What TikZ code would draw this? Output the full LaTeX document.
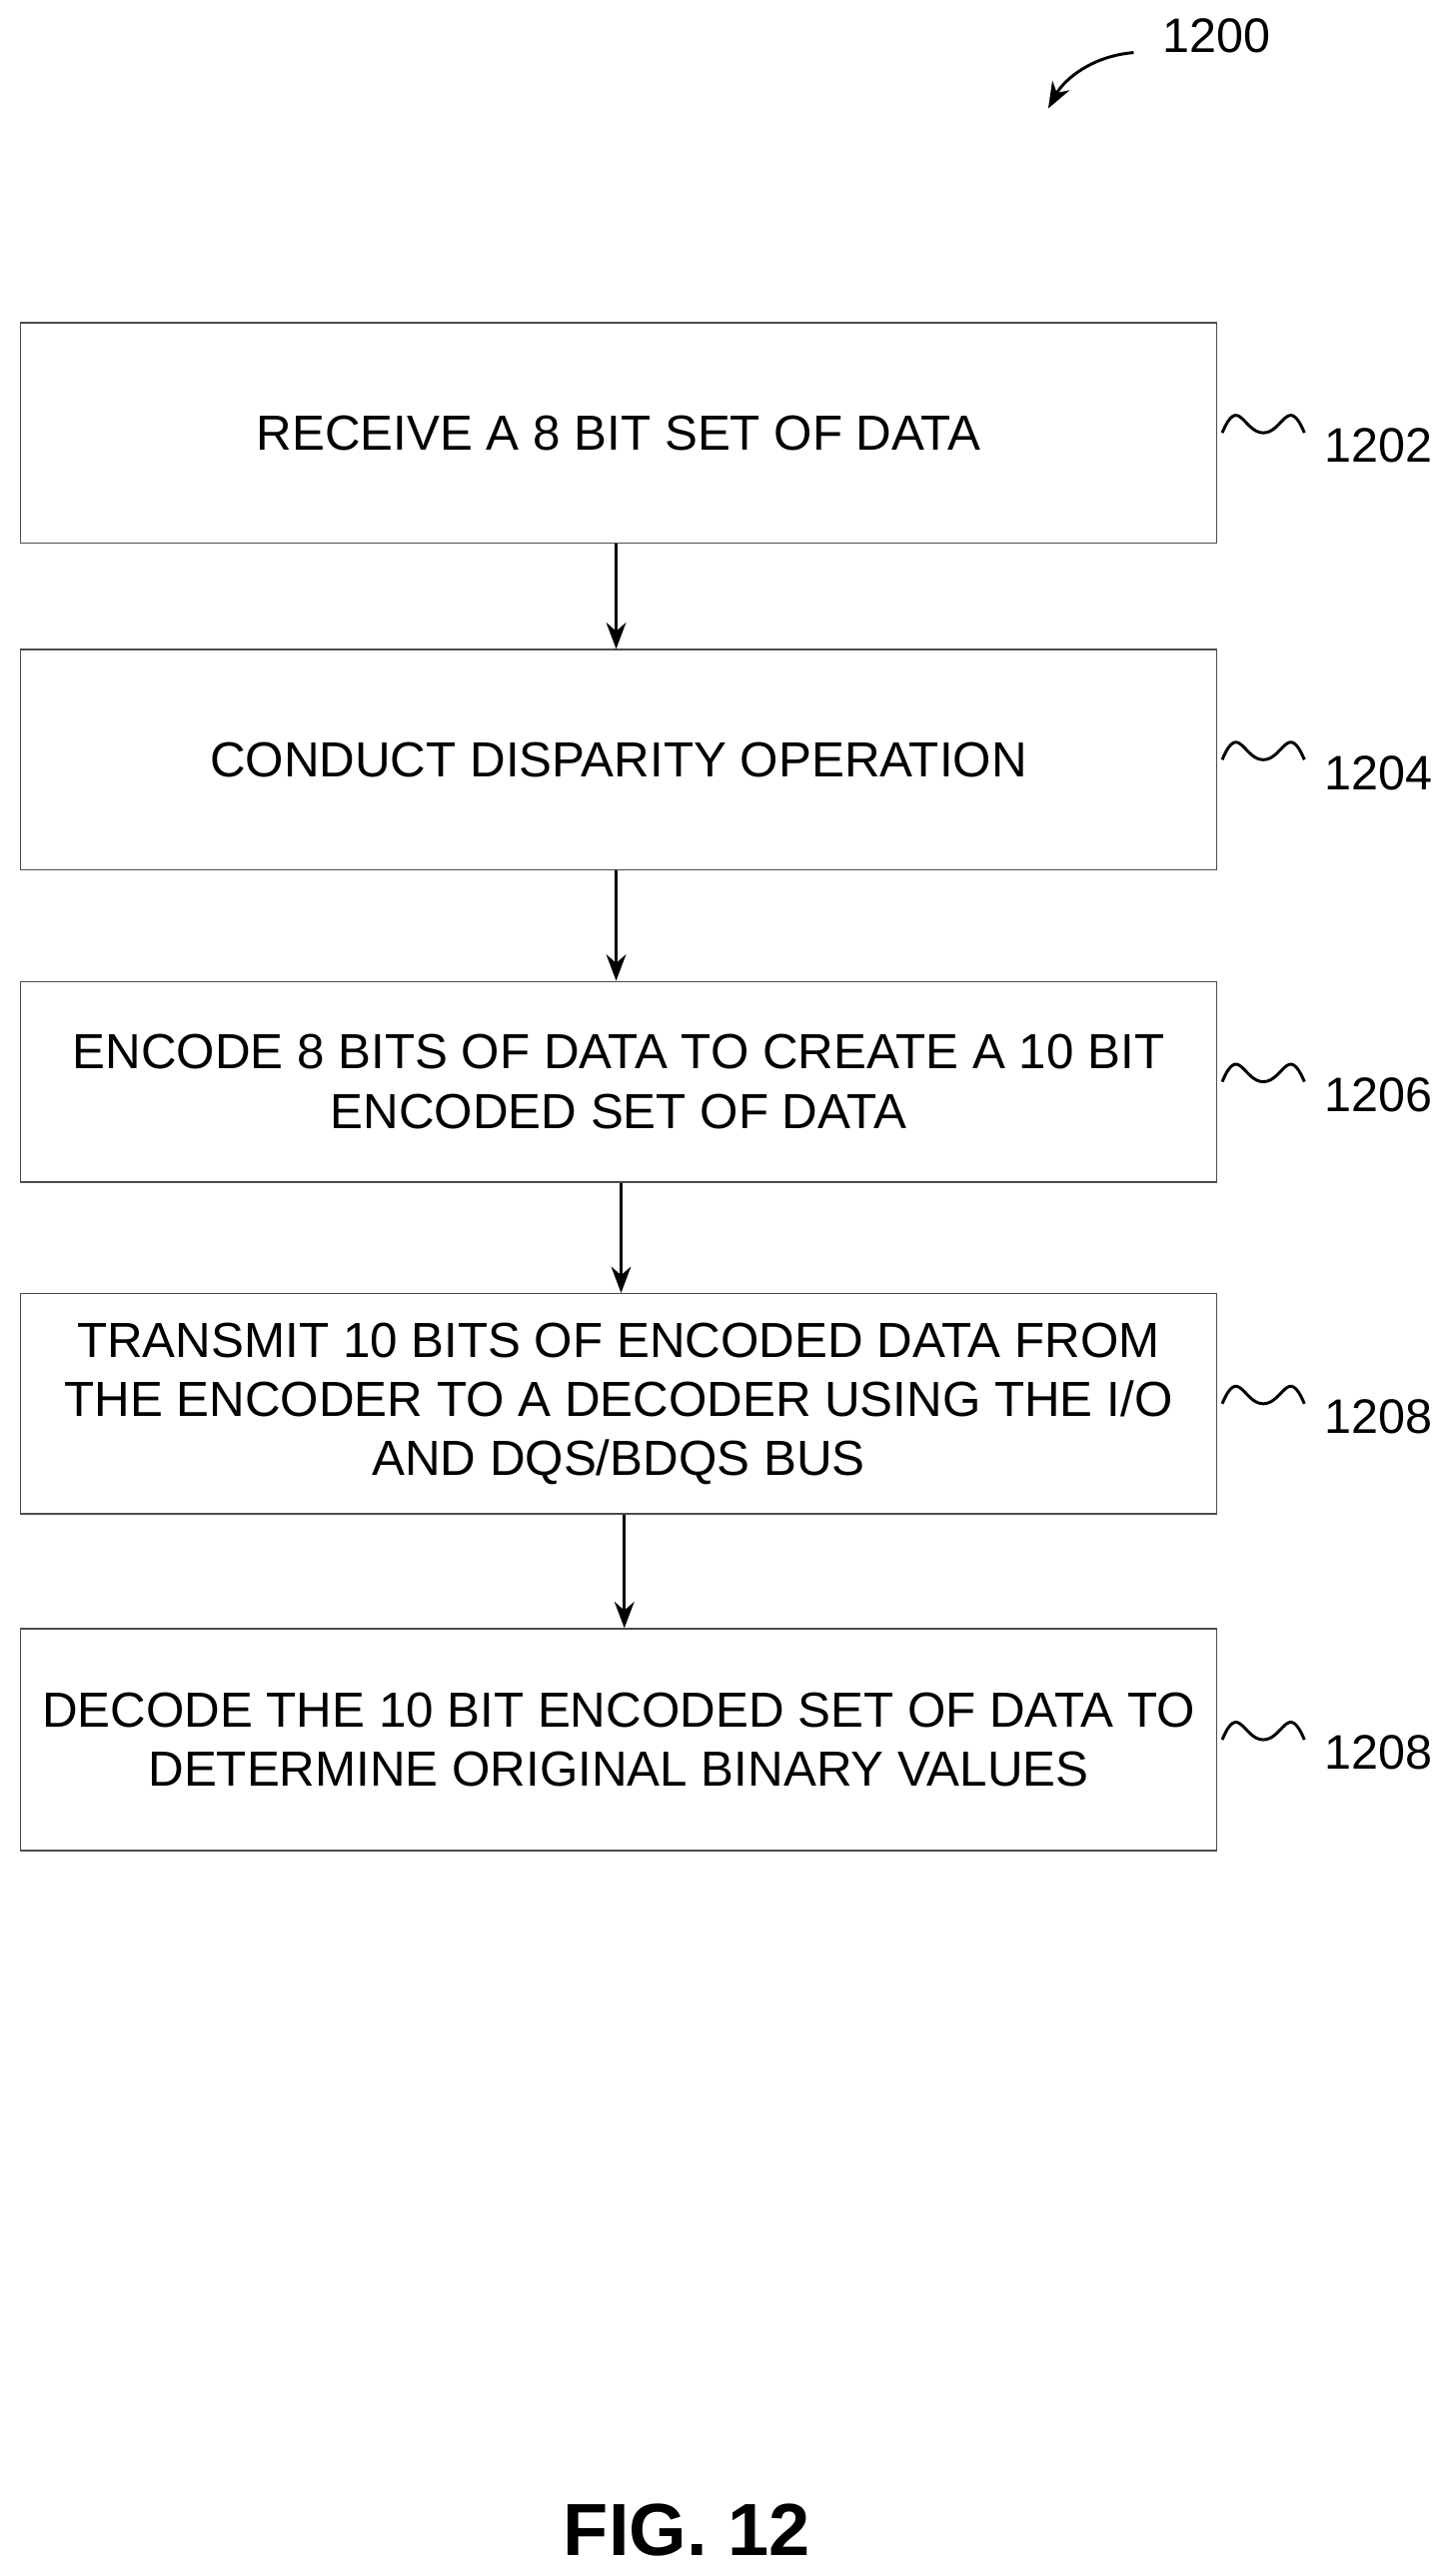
\documentclass[tikz,border=0pt]{standalone}
\usepackage{fontspec}
\setmainfont{Liberation Sans}
\usetikzlibrary{arrows.meta}
\tikzset{
  stepbox/.style={draw=black!70, line width=0.9pt, minimum width=728pt, align=center,
    font=\fontsize{30}{36}\selectfont, inner sep=0pt, anchor=north west},
  flow/.style={-{Stealth[length=16pt,width=12pt]}, line width=1.8pt},
  tag/.style={font=\fontsize{29.5}{34}\selectfont, anchor=west}
}
\begin{document}
\begin{tikzpicture}[x=1pt,y=-1pt]
  \useasboundingbox (0,0) rectangle (884,1568);

  \node[stepbox, minimum height=134pt] (receive) at (12,196) {RECEIVE A 8 BIT SET OF DATA};
  \node[stepbox, minimum height=134pt] (disparity) at (12,395) {CONDUCT DISPARITY OPERATION};
  \node[stepbox, minimum height=122pt] (encode) at (12,597) {ENCODE 8 BITS OF DATA TO CREATE A 10 BIT\\ENCODED SET OF DATA};
  \node[stepbox, minimum height=134pt] (transmit) at (12,787) {TRANSMIT 10 BITS OF ENCODED DATA FROM\\THE ENCODER TO A DECODER USING THE I/O\\AND DQS/BDQS BUS};
  \node[stepbox, minimum height=135pt] (decode) at (12,991) {DECODE THE 10 BIT ENCODED SET OF DATA TO\\DETERMINE ORIGINAL BINARY VALUES};

  \draw[flow] (receive.south -| 375,0) -- (disparity.north -| 375,0);
  \draw[flow] (disparity.south -| 375,0) -- (encode.north -| 375,0);
  \draw[flow] (encode.south -| 378,0) -- (transmit.north -| 378,0);
  \draw[flow] (transmit.south -| 380,0) -- (decode.north -| 380,0);

  % reference tags
  \foreach \nm/\lbl in {receive/1202, disparity/1204, encode/1206, transmit/1208, decode/1208}{
    \draw[line width=1.8pt] ([xshift=3pt]\nm.east) .. controls +(10,-24) and +(-12,0) .. +(25,0)
      .. controls +(12,0) and +(-10,-24) .. +(50,0);
    \node[tag] (\nm-tag) at ([xshift=62pt,yshift=-8pt]\nm.east) {\lbl};
  }

  \node[tag] (fig-num) at (704,22) {1200};
  \coordinate (fig-start) at (690,32);
  \draw[flow] (fig-start) .. controls (665,34) and (648,48) .. (638,66);

  \node[font=\bfseries\fontsize{45}{54}\selectfont] (fig) at (418,1540) {FIG. 12};
\end{tikzpicture}
\end{document}
